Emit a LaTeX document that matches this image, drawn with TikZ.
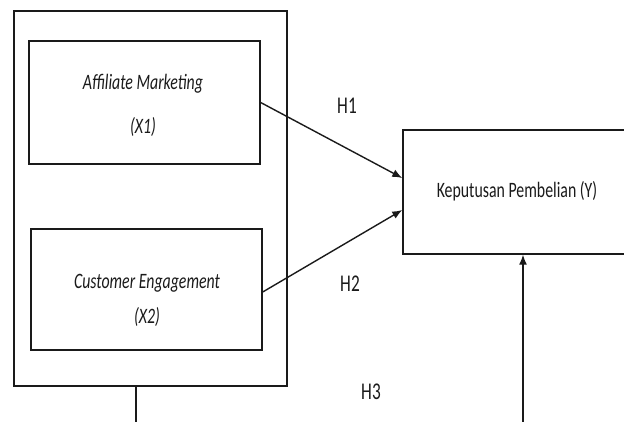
\documentclass[tikz,border=0pt]{standalone}
\usepackage{fontspec}
\setmainfont{Carlito}[FakeStretch=0.72]
\usetikzlibrary{arrows.meta,positioning}
\definecolor{ink}{HTML}{1A1A1A}

\begin{document}
\begin{tikzpicture}[x=1pt,y=-1pt,line width=1.4pt,draw=ink,text=ink]
  \useasboundingbox (0,0) rectangle (624,421);
  \tikzset{varbox/.style={draw,rectangle,inner sep=0pt},
    varname/.style={font=\fontsize{22}{26}\selectfont\itshape,align=center},
    hyp/.style={font=\fontsize{24}{28}\selectfont},
    path/.style={-{Latex[length=10pt,width=8pt]}}}

  % Grouping frame around both independent variables.
  \node[varbox,minimum width=273pt,minimum height=375pt] (group) at (150.5,198.5) {};
  \node[varbox,minimum width=231pt,minimum height=123pt] (xone) at (144.5,102.5) {};
  \node[varbox,minimum width=231pt,minimum height=121pt] (xtwo) at (146.5,289.5) {};
  \node[varname] (xonetext) at (143,105) {Affiliate Marketing\\[18pt](X1)};
  \node[varname] (xtwotext) at (147,300.5) {Customer Engagement\\[9pt](X2)};

  % Dependent variable, running off the right edge.
  \node[varbox,minimum width=228pt,minimum height=124pt,
    font=\fontsize{22}{26}\selectfont] (yvar) at (517,192) {\raisebox{5pt}{Keputusan Pembelian (Y)}};

  % Hypothesis paths.
  \draw[path] (xone.east) -- ([yshift=14pt]yvar.west);
  \draw[path] ([yshift=-2.5pt]xtwo.east) -- ([yshift=-18pt]yvar.west);
  \coordinate (groupfoot) at (136,425);
  \coordinate (yfoot) at (523,425);
  \draw (groupfoot) -- ([xshift=-14.5pt]group.south);
  \draw[path] (yfoot) -- ([xshift=6pt]yvar.south);

  \node[hyp] (hone) at (347,106) {H1};
  \node[hyp] (htwo) at (350,284) {H2};
  \node[hyp] (hthree) at (371,392) {H3};
\end{tikzpicture}
\end{document}
